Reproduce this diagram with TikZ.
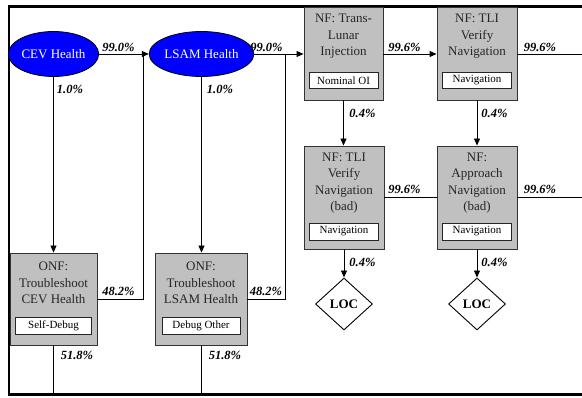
\documentclass[tikz,border=0pt]{standalone}
\usepackage{fontspec}
\setmainfont{Liberation Serif}
\usetikzlibrary{shapes.geometric,arrows.meta}
\definecolor{boxgray}{RGB}{192,192,192}
\definecolor{healthblue}{RGB}{0,0,255}
\tikzset{
  line/.style={draw=black,line width=0.9pt},
  arr/.style={line,-{Triangle[length=7pt,width=6pt]}},
  health/.style={ellipse,draw=black,line width=0.8pt,fill=healthblue,text=white,
    minimum width=87pt,minimum height=45pt,inner sep=0pt,font=\fontsize{13}{16}\selectfont},
  gbox/.style={rectangle,draw=black!80,line width=0.9pt,fill=boxgray,inner sep=0pt},
  title/.style={align=center,inner sep=0pt,text=black!85,font=\fontsize{13}{16.5}\selectfont},
  tag/.style={rectangle,draw=black!85,line width=0.8pt,fill=white,inner sep=0pt,
    minimum height=17pt,font=\fontsize{11}{13}\selectfont},
  pct/.style={inner sep=0pt,font=\fontsize{12.5}{14}\selectfont\bfseries\itshape},
  loc/.style={diamond,draw=black,line width=0.9pt,fill=white,inner sep=0pt,
    minimum width=57pt,minimum height=52pt,font=\fontsize{13}{16}\selectfont\bfseries},
}
\begin{document}
\begin{tikzpicture}[x=1pt,y=-1pt]
\clip (0,0) rectangle (582,398);
\fill[white] (0,0) rectangle (582,398);

% outer frame, open on the right
\draw[line width=2.4pt] (600,6.5) -- (9,6.5) -- (9,394.5) -- (600,394.5);

% health checks
\node[health] (cev) at (53.5,54) {CEV Health};
\node[health] (lsam) at (201.5,54) {LSAM Health};

% troubleshooting boxes
\node[gbox,minimum width=87pt,minimum height=92pt] (tsc) at (53.5,299) {};
\node[title] (tsct) at (53.5,283) {ONF:\\Troubleshoot\\CEV Health};
\node[tag,minimum width=76pt] (tscs) at (53.5,325.5) {Self-Debug};

\node[gbox,minimum width=92pt,minimum height=92pt] (tsl) at (201,299) {};
\node[title] (tslt) at (201,283) {ONF:\\Troubleshoot\\LSAM Health};
\node[tag,minimum width=78pt] (tsls) at (201,325.5) {Debug Other};

% nominal flow boxes
\node[gbox,minimum width=79pt,minimum height=93pt] (tli) at (343.5,53.5) {};
\node[title] (tlit) at (343.5,36.5) {NF: Trans-\\Lunar\\Injection};
\node[tag,minimum width=69pt,minimum height=16pt] (tlis) at (343.5,80.5) {Nominal OI};

\node[gbox,minimum width=80pt,minimum height=93pt] (tv) at (477,53.5) {};
\node[title] (tvt) at (477,36.5) {NF: TLI\\Verify\\Navigation};
\node[tag,minimum width=69pt,minimum height=16pt] (tvs) at (477,80.5) {Navigation};

\node[gbox,minimum width=80pt,minimum height=103pt] (tvb) at (344,197.5) {};
\node[title] (tvbt) at (344,183) {NF: TLI\\Verify\\Navigation\\(bad)};
\node[tag,minimum width=69pt] (tvbs) at (344,231.5) {Navigation};

\node[gbox,minimum width=80pt,minimum height=103pt] (ap) at (477,197.5) {};
\node[title] (apt) at (477,183) {NF:\\Approach\\Navigation\\(bad)};
\node[tag,minimum width=69pt] (aps) at (477,231.5) {Navigation};

% loss of crew
\node[loc] (loc1) at (344,304) {LOC};
\node[loc] (loc2) at (477,304) {LOC};

% connector end points
\coordinate (r1) at (143,54);
\coordinate (r2) at (285,54);
\coordinate (b1) at (53.5,394.5);
\coordinate (b2) at (201,394.5);
\coordinate (e1) at (590,54);
\coordinate (e2) at (590,197.5);

% connectors
\draw[arr] (cev) -- (lsam);
\draw[arr] (cev) -- (cev |- tsc.north);
\draw[line] (tsc.east) -| (r1);
\draw[line] (tsc.south) -- (b1);

\draw[arr] (lsam.east) -- (lsam.east -| tli.west);
\draw[arr] (lsam) -- (lsam |- tsl.north);
\draw[line] (tsl.east) -| (r2);
\draw[line] (tsl.south) -- (b2);

\draw[arr] (tli.east |- lsam.east) -- (tli.east |- lsam.east -| tv.west);
\draw[line] (tv.east |- lsam.east) -- (e1);
\draw[arr] (tli.south) -- (tli.south |- tvb.north);
\draw[arr] (tv.south) -- (tv.south |- ap.north);
\draw[line] (tvb.east) -- (ap.west);
\draw[line] (ap.east) -- (e2);
\draw[arr] (tvb.south) -- (loc1.north);
\draw[arr] (ap.south) -- (loc2.north);

% branch probabilities
\node[pct] (p1) at (118.5,47.5) {99.0\%};
\node[pct] (p2) at (70,89) {1.0\%};
\node[pct] (p3) at (266.5,47.5) {99.0\%};
\node[pct] (p4) at (220,89) {1.0\%};
\node[pct] (p5) at (118.5,291.5) {48.2\%};
\node[pct] (p6) at (266,291.5) {48.2\%};
\node[pct] (p7) at (77,355) {51.8\%};
\node[pct] (p8) at (225,355) {51.8\%};
\node[pct] (p9) at (404.5,47.5) {99.6\%};
\node[pct] (p10) at (540,47.5) {99.6\%};
\node[pct] (p11) at (362.5,113) {0.4\%};
\node[pct] (p12) at (494.5,113) {0.4\%};
\node[pct] (p13) at (404.5,189.5) {99.6\%};
\node[pct] (p14) at (540,189.5) {99.6\%};
\node[pct] (p15) at (362.5,262) {0.4\%};
\node[pct] (p16) at (494.5,262) {0.4\%};
\end{tikzpicture}
\end{document}
